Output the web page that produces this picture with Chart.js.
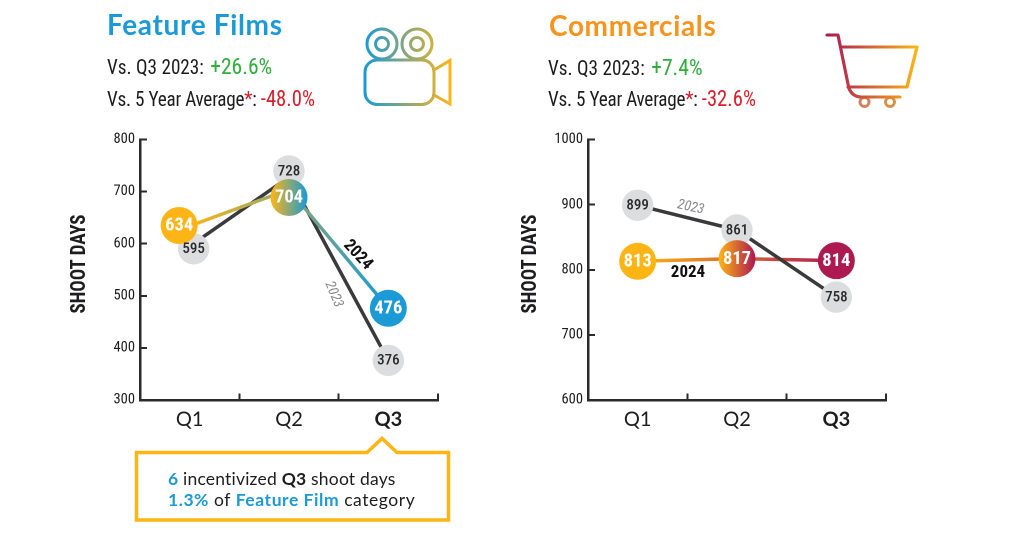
<!DOCTYPE html>
<html><head><meta charset="utf-8">
<script src="https://cdn.jsdelivr.net/npm/chart.js@4"></script>
<style>
html,body{margin:0;padding:0;background:#fff;width:1024px;height:553px;overflow:hidden}
canvas{position:absolute;top:0}
.t{position:absolute;white-space:nowrap;line-height:1}
.title{font:700 28px Lato,sans-serif;letter-spacing:.65px}
.vs{font:400 20px "Roboto Condensed",sans-serif;color:#1d1d1f;transform:scaleX(.96);transform-origin:0 50%}
.tight{letter-spacing:-.25px}
.v{font-size:21.500px;letter-spacing:0}
.v.big{font-size:22.500px;margin-left:2px}
.g{color:#2fae3c}.r{color:#d8202c}
.axis{font:700 20px "Roboto Condensed",sans-serif;color:#1d1d1f;transform:translate(-50%,-50%) rotate(-90deg) scaleX(.95)}
.ann{font:700 17px "Roboto Condensed",sans-serif;color:#111;transform:translate(-50%,-50%)}
.ann23{font:italic 400 14px "Roboto Condensed",sans-serif;color:#8a8b8d;transform:translate(-50%,-50%)}
.note{font:400 17.500px Lato,sans-serif;color:#1d1d1f}
.note b{font-weight:700}.note i{font-style:normal;font-weight:700;color:#1b9ad6}
svg{position:absolute;left:0;top:0}
</style></head><body>
<canvas id="c1" style="left:0"></canvas>
<canvas id="c2" style="left:448px"></canvas>
<svg width="1024" height="553" fill="none">
<defs>
<linearGradient id="cam" gradientUnits="userSpaceOnUse" x1="365" x2="451" y1="0" y2="0"><stop offset="0" stop-color="#1b9ad6"/><stop offset="1" stop-color="#fdb515"/></linearGradient>
<linearGradient id="cart" gradientUnits="userSpaceOnUse" x1="830" x2="917" y1="0" y2="0"><stop offset="0" stop-color="#ad1a52"/><stop offset="1" stop-color="#fdb515"/></linearGradient>
</defs>
<g stroke="url(#cam)" stroke-width="3">
<circle cx="382" cy="44" r="15"/><circle cx="382" cy="44" r="6.500"/>
<circle cx="417" cy="44" r="15"/><circle cx="417" cy="44" r="6.500"/>
<rect x="365" y="60" width="69" height="44.500" rx="12"/>
<path d="M434 70L450 60.500V104L434 95"/>
</g>
<g stroke="url(#cart)" stroke-width="3.200" stroke-linecap="round" stroke-linejoin="round">
<circle cx="864.500" cy="102" r="4.500" stroke="#d0805a" stroke-width="3"/><circle cx="890" cy="102" r="4.500" stroke="#d98f45" stroke-width="3"/>
<path d="M827 35H838L848 84Q850 97 862 97H900"/>
<path d="M841 47H917L907 87H848"/>
</g>
<path d="M136.500 452.500H367L382 438.500L397 452.500H448.500V520H136.500Z" stroke="#fdb515" stroke-width="3.500"/>
</svg>
<div class="t title" style="left:107px;top:7px;color:#1b9ad6">Feature Films</div>
<div class="t vs" style="left:107px;top:53px">Vs. Q3 2023: <span class="g v big">+26.6%</span></div>
<div class="t vs tight" style="left:107px;top:86px">Vs. 5 Year Average<span class="r">*</span>: <span class="r v">-48.0%</span></div>
<div class="t title" style="left:549px;top:8px;color:#f7941d">Commercials</div>
<div class="t vs" style="left:548px;top:54px">Vs. Q3 2023: <span class="g v big">+7.4%</span></div>
<div class="t vs tight" style="left:548px;top:86px">Vs. 5 Year Average<span class="r">*</span>: <span class="r v">-32.6%</span></div>
<div class="t axis" style="left:78px;top:264px">SHOOT DAYS</div>
<div class="t axis" style="left:529px;top:264px">SHOOT DAYS</div>
<div class="t ann" style="left:359px;top:254px;transform:translate(-50%,-50%) rotate(47deg)">2024</div>
<div class="t ann23" style="left:335px;top:294px;transform:translate(-50%,-50%) rotate(67deg)">2023</div>
<div class="t ann" style="left:688px;top:271px">2024</div>
<div class="t ann23" style="left:691px;top:206px;transform:translate(-50%,-50%) rotate(12deg)">2023</div>
<div class="t note" style="left:168px;top:468px;letter-spacing:.2px"><i>6</i> incentivized <b>Q3</b> shoot days</div>
<div class="t note" style="left:168px;top:489px;letter-spacing:.55px"><i>1.3%</i> of <i>Feature Film</i> category</div>
<script>
const categories = ['Q1','Q2','Q3'];
const films2023 = [595,728,376];
const films2024 = [634,704,476];
const filmsTicks = [300,400,500,600,700,800];
const ads2023 = [899,861,758];
const ads2024 = [813,817,814];
const adsTicks = [600,700,800,900,1000];

const YEL='#fdb515', BLUE='#1b9ad6', CRIM='#ad1a52', GREY='#dcddde', DARK='#3a3a3c', AX='#2b2b2d';
const NARROW='"Roboto Condensed",sans-serif';

/* circles sit slightly off their true position in the original so that they do not hide one another */
const nudgeFilms23=[[4,2.500],[0,-6],[0,0]], nudgeFilms24=[[-10.500,-0.500],[0,8],[0,0]], none=[[0,0],[0,0],[0,0]];

const markerPlugin={
  id:'markers',
  afterDatasetsUpdate(chart){
    chart.data.datasets.forEach((ds,i)=>{
      if(!ds.nudge) return;
      chart.getDatasetMeta(i).data.forEach((p,k)=>{p.x+=ds.nudge[k][0];p.y+=ds.nudge[k][1];});
    });
  },
  afterDatasetsDraw(chart){
    const c=chart.ctx;
    chart.data.datasets.forEach((ds,i)=>{
      if(!ds.nudge) return;
      chart.getDatasetMeta(i).data.forEach((p,k)=>{
        c.save();
        c.font=ds.labelFont; c.fillStyle=ds.labelColor; c.textAlign='center'; c.textBaseline='middle';
        c.fillText(String(ds.data[k]),p.x,p.y+0.5);
        c.restore();
      });
    });
  }
};

function makeChart(id,d23,d24,ticks,min,max,n23,n24,endColor,line23Top){
  const el=document.getElementById(id);
  const lineGrad=ctx=>{
    const a=ctx.chart.chartArea; if(!a) return YEL;
    const xs=ctx.chart.scales.x;
    const g=ctx.chart.ctx.createLinearGradient(xs.getPixelForValue(0),0,xs.getPixelForValue(2),0);
    g.addColorStop(0,YEL); g.addColorStop(1,endColor); return g;
  };
  const ptFill=ctx=>{
    const ch=ctx.chart; if(!ch.chartArea) return YEL;
    const i=ctx.dataIndex;
    if(i===0) return YEL;
    if(i===2) return endColor;
    const x=ch.scales.x.getPixelForValue(1);
    const g=ch.ctx.createLinearGradient(x-18,0,x+18,0);
    g.addColorStop(0,YEL); g.addColorStop(1,endColor); return g;
  };
  return new Chart(el,{
    type:'line',
    data:{labels:categories,datasets:[
      {label:'2024 marks',data:d24,showLine:false,order:0,pointRadius:18.500,pointHoverRadius:18.500,pointBorderWidth:0,pointBackgroundColor:ptFill,nudge:n24,labelFont:'700 18.500px '+NARROW,labelColor:'#fff'},
      {label:'2023 marks',data:d23,showLine:false,order:1,pointRadius:15.700,pointHoverRadius:15.700,pointBorderWidth:0,pointBackgroundColor:GREY,nudge:n23,labelFont:'500 15px '+NARROW,labelColor:'#2b2b2d'},
      {label:'2023',data:d23,order:line23Top?2:3,borderColor:DARK,borderWidth:3.500,pointRadius:0,tension:0,fill:false},
      {label:'2024',data:d24,order:line23Top?3:2,borderColor:lineGrad,borderWidth:3.500,pointRadius:0,tension:0,fill:false}
    ]},
    plugins:[markerPlugin],
    options:{
      responsive:false,animation:false,devicePixelRatio:2,
      events:[],
      layout:{padding:{left:0,top:139.500,right:74,bottom:103}},
      plugins:{legend:{display:false},tooltip:{enabled:false},title:{display:false}},
      scales:{
        x:{type:'category',offset:true,
          border:{color:AX,width:2.500},
          grid:{offset:true,drawOnChartArea:false,drawTicks:true,tickLength:-6.500,color:AX,lineWidth:2},
          ticks:{padding:14,color:'#1d1d1f',maxRotation:0,
            font:c=>({family:'Lato,sans-serif',size:20,weight:c.index===2?'700':'400'})},
          afterFit(s){s.height=50;}
        },
        y:{type:'linear',min,max,
          border:{color:AX,width:2.500},
          grid:{drawOnChartArea:false,drawTicks:true,tickLength:-7,color:AX,lineWidth:2},
          afterBuildTicks(s){s.ticks=ticks.map(v=>({value:v}));},
          ticks:{padding:12,color:'#1d1d1f',callback:v=>String(v),font:{family:'"Roboto Condensed",sans-serif',size:14.500,weight:'400'}},
          afterFit(s){s.width=140;}
        }
      }
    }
  });
}
['c1','c2'].forEach(id=>{const e=document.getElementById(id);e.width=512;e.height=553;e.style.width='512px';e.style.height='553px';});
makeChart('c1',films2023,films2024,filmsTicks,300,800,nudgeFilms23,nudgeFilms24,BLUE,false);
makeChart('c2',ads2023,ads2024,adsTicks,600,1000,none,none,CRIM,true);
</script>
</body></html>
